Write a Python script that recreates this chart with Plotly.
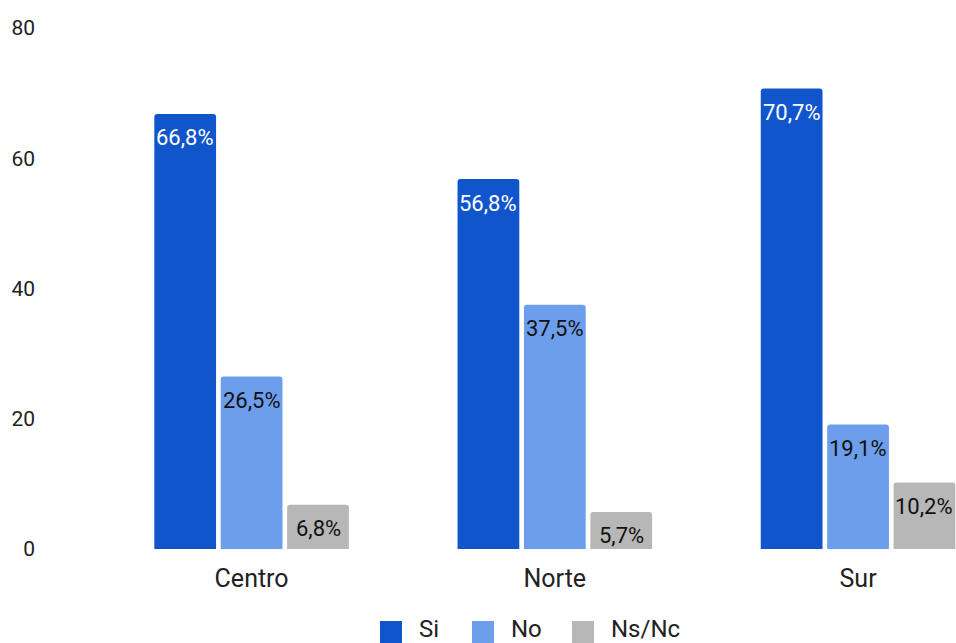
import plotly.graph_objects as go

# Survey answers by region (percent)
categories = ["Centro", "Norte", "Sur"]
series_names = ["Si", "No", "Ns/Nc"]
si_values = [66.8, 56.8, 70.7]
no_values = [26.5, 37.5, 19.1]
nsnc_values = [6.8, 5.7, 10.2]
y_ticks = [0, 20, 40, 60, 80]

colors = ["#1155cc", "#6d9eeb", "#b7b7b7"]
label_colors = ["#ffffff", "#111111", "#111111"]
values = [si_values, no_values, nsnc_values]

BARGAP = 0.343
BARGROUPGAP = 0.07
FONT = "Roboto, Arial, sans-serif"
TEXT = "#222222"

# Plot area in pixels
W, H = 956, 643
PLOT_L, PLOT_R, PLOT_T, PLOT_B = 36, 956, 28, 549


def px_x(p):
    return (p - PLOT_L) / (PLOT_R - PLOT_L)


def px_y(p):
    return (PLOT_B - p) / (PLOT_B - PLOT_T)


x_pos = list(range(len(categories)))

fig = go.Figure()
for name, vals, col in zip(series_names, values, colors):
    fig.add_trace(go.Bar(
        x=x_pos, y=vals, name=name,
        marker=dict(color=col, line=dict(width=0)),
        hoverinfo="y+name", showlegend=False,
    ))

# Value labels just under the top of each bar
n = len(series_names)
slot = (1 - BARGAP) / n
for i, (vals, lc) in enumerate(zip(values, label_colors)):
    for j, v in enumerate(vals):
        fig.add_annotation(
            x=x_pos[j] + (i - (n - 1) / 2) * slot, y=v,
            text=f"{v:.1f}%".replace(".", ","),
            showarrow=False, yshift=-24,
            font=dict(family=FONT, size=22, color=lc),
        )

# Legend row below the axis: square swatch + label per series
swatch_left = [380, 472, 572]
swatch_size = 22
swatch_cy = 632
legend_text_cy = 629
for name, col, sx in zip(series_names, colors, swatch_left):
    fig.add_shape(
        type="rect", xref="paper", yref="paper",
        x0=px_x(sx), x1=px_x(sx + swatch_size),
        y0=px_y(swatch_cy + swatch_size / 2), y1=px_y(swatch_cy - swatch_size / 2),
        fillcolor=col, line=dict(width=0),
    )
    fig.add_annotation(
        xref="paper", yref="paper",
        x=px_x(sx + swatch_size + 15), y=px_y(legend_text_cy),
        xanchor="left", yanchor="middle",
        text=name, showarrow=False,
        font=dict(family=FONT, size=24, color=TEXT),
    )

fig.update_layout(
    width=W, height=H,
    margin=dict(l=PLOT_L, r=W - PLOT_R, t=PLOT_T, b=H - PLOT_B, autoexpand=False),
    paper_bgcolor="white", plot_bgcolor="white",
    barmode="group", bargap=BARGAP, bargroupgap=BARGROUPGAP,
    barcornerradius=3,
    font=dict(family=FONT, color=TEXT),
    showlegend=False,
)
fig.update_xaxes(
    tickvals=x_pos, ticktext=categories,
    range=[-0.711, 2.323],
    showgrid=False, zeroline=False, showline=False,
    ticks="", ticklabelstandoff=12,
    tickfont=dict(family=FONT, size=25, color=TEXT),
)
fig.update_yaxes(
    range=[0, 80], tickvals=y_ticks,
    showgrid=False, zeroline=False, showline=False,
    tickfont=dict(family=FONT, size=21, color=TEXT),
)

fig.write_html("out.html")
